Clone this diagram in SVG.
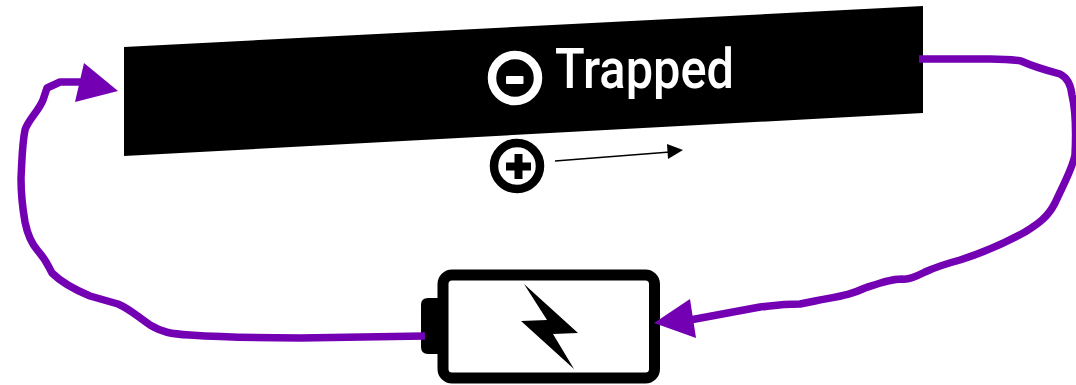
<svg xmlns="http://www.w3.org/2000/svg" width="1076" height="385" viewBox="0 0 1076 385">
<style>
.wire{fill:none;stroke:#7400b3;stroke-width:7.500;stroke-linejoin:round}
.head{fill:#7400b3}
.lbl{font-family:"Roboto","Liberation Sans",sans-serif;font-weight:500;font-size:56px;fill:#fff}
</style>
<rect width="1076" height="385" fill="#fff"/>
<g id="trapped">
<polygon points="124,47 923,6 923,113 124,156" fill="#000"/>
<circle cx="515" cy="78" r="23" fill="none" stroke="#fff" stroke-width="8.500"/>
<rect x="506" y="76" width="17.500" height="8" rx="1" fill="#fff"/>
<text class="lbl" x="555" y="88" textLength="179" lengthAdjust="spacingAndGlyphs">Trapped</text>
</g>
<g id="charge">
<circle cx="517" cy="166" r="23" fill="none" stroke="#000" stroke-width="8.500"/>
<path d="M506,166.500H531M518.500,154V179" fill="none" stroke="#000" stroke-width="8"/>
<path d="M555,161L670,152" fill="none" stroke="#000" stroke-width="1.300"/>
<polygon points="683,150 667,144 668,159" fill="#000"/>
</g>
<g id="battery">
<rect x="443" y="275" width="211.500" height="103" rx="9" fill="#fff" stroke="#000" stroke-width="11"/>
<path d="M440,298H428Q421,298 421,305V347Q421,354 428,354H440Z" fill="#000"/>
<polygon points="524,284 578,333 553,334 574,369 521,321 547,320" fill="#000"/>
</g>
<g id="connectors">
<path class="wire" d="M425,336L300,338C260,338 220,337 190,335C170,334 162,332 150,325C138,317 130,309 118,304L90,296C78,291 62,283 52,273C48,266 47,261 38,251C30,242 27,232 25,222C22,205 21,190 21,178C22,160 22,145 25,130C28,120 38,112 43,100L47,88L60,82L85,82"/>
<polygon class="head" points="84,63 118,91 75,102"/>
<path class="wire" d="M919,59H990C1005,59 1015,60 1021,61C1030,65 1045,70 1060,74C1068,78 1071,86 1072,95C1076,112 1076,135 1075,155C1072,170 1063,185 1055,203C1048,217 1038,224 1025,232C1005,243 985,252 960,260C945,264 938,266 925,272C915,277 908,280 902,279C890,279 880,283 865,288C850,295 840,296 815,301L800,304C780,304 770,306 760,307L690,320"/>
<polygon class="head" points="654,323 690,299 696,338"/>
</g>
</svg>
